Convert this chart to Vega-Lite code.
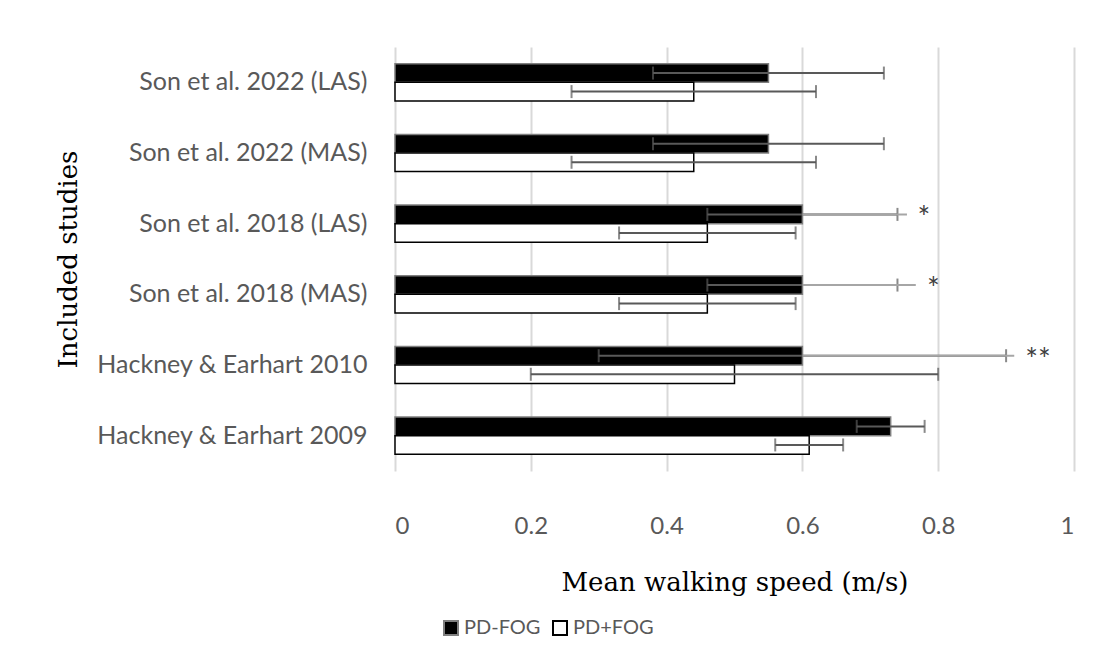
{
  "$schema": "https://vega.github.io/schema/vega-lite/v6.json",
  "width": 679,
  "height": 424,
  "autosize": "none",
  "padding": {"left": 395, "top": 47, "right": 32, "bottom": 196},
  "background": "white",
  "config": {"view": {"stroke": null}},
  "datasets": {
    "bars": [
      {"study": "Son et al. 2022 (LAS)", "group": "PD-FOG", "mean": 0.55, "lo": 0.38, "hi": 0.72},
      {"study": "Son et al. 2022 (LAS)", "group": "PD+FOG", "mean": 0.44, "lo": 0.26, "hi": 0.62},
      {"study": "Son et al. 2022 (MAS)", "group": "PD-FOG", "mean": 0.55, "lo": 0.38, "hi": 0.72},
      {"study": "Son et al. 2022 (MAS)", "group": "PD+FOG", "mean": 0.44, "lo": 0.26, "hi": 0.62},
      {"study": "Son et al. 2018 (LAS)", "group": "PD-FOG", "mean": 0.60, "lo": 0.46, "hi": 0.74},
      {"study": "Son et al. 2018 (LAS)", "group": "PD+FOG", "mean": 0.46, "lo": 0.33, "hi": 0.59},
      {"study": "Son et al. 2018 (MAS)", "group": "PD-FOG", "mean": 0.60, "lo": 0.46, "hi": 0.74},
      {"study": "Son et al. 2018 (MAS)", "group": "PD+FOG", "mean": 0.46, "lo": 0.33, "hi": 0.59},
      {"study": "Hackney & Earhart 2010", "group": "PD-FOG", "mean": 0.60, "lo": 0.30, "hi": 0.90},
      {"study": "Hackney & Earhart 2010", "group": "PD+FOG", "mean": 0.50, "lo": 0.20, "hi": 0.80},
      {"study": "Hackney & Earhart 2009", "group": "PD-FOG", "mean": 0.73, "lo": 0.68, "hi": 0.78},
      {"study": "Hackney & Earhart 2009", "group": "PD+FOG", "mean": 0.61, "lo": 0.56, "hi": 0.66}
    ],
    "sig": [
      {"study": "Son et al. 2018 (LAS)", "group": "PD-FOG", "from": 0.60, "to": 0.754, "labelX": 0.779, "label": "*"},
      {"study": "Son et al. 2018 (MAS)", "group": "PD-FOG", "from": 0.60, "to": 0.767, "labelX": 0.793, "label": "*"},
      {"study": "Hackney & Earhart 2010", "group": "PD-FOG", "from": 0.60, "to": 0.912, "labelX": 0.947, "label": "**"}
    ]
  },
  "encoding": {
    "y": {
      "field": "study",
      "type": "nominal",
      "sort": ["Son et al. 2022 (LAS)", "Son et al. 2022 (MAS)", "Son et al. 2018 (LAS)", "Son et al. 2018 (MAS)", "Hackney & Earhart 2010", "Hackney & Earhart 2009"],
      "scale": {"paddingInner": 0.475, "paddingOuter": 0.2375},
      "axis": {
        "title": "Included studies",
        "titleFont": "DejaVu Serif",
        "titleFontSize": 26,
        "titleFontWeight": "normal",
        "titleColor": "black",
        "titleX": -327,
        "titleY": 212,
        "titleAngle": -90,
        "titleAlign": "center",
        "titleBaseline": "middle",
        "labelFont": "Lato",
        "labelFontSize": 25,
        "labelColor": "#595959",
        "labelPadding": 28,
        "labelLimit": 500,
        "ticks": false,
        "domain": false,
        "grid": false
      }
    },
    "yOffset": {"field": "group", "type": "nominal", "scale": {"domain": ["PD-FOG", "PD+FOG"], "paddingInner": 0, "paddingOuter": 0}}
  },
  "layer": [
    {
      "data": {"name": "bars"},
      "mark": {"type": "bar", "strokeWidth": 1.5},
      "encoding": {
        "x": {
          "field": "mean",
          "type": "quantitative",
          "scale": {"domain": [0, 1], "nice": false},
          "axis": {
            "values": [0, 0.2, 0.4, 0.6, 0.8, 1],
            "format": "~g",
            "title": "Mean walking speed (m/s)",
            "titleFont": "DejaVu Serif",
            "titleFontSize": 26,
            "titleFontWeight": "normal",
            "titleColor": "black",
            "titlePadding": 31,
            "labelFont": "Lato",
            "labelFontSize": 24,
            "labelColor": "#595959",
            "labelPadding": 43,
            "ticks": false,
            "domain": false,
            "grid": true,
            "gridColor": "#d9d9d9",
            "gridWidth": 2
          }
        },
        "fill": {
          "field": "group",
          "type": "nominal",
          "scale": {"domain": ["PD-FOG", "PD+FOG"], "range": ["black", "white"]},
          "legend": {
            "title": null,
            "orient": "none",
            "legendX": 46,
            "legendY": 571,
            "direction": "horizontal",
            "symbolType": "square",
            "symbolSize": 196,
            "symbolStrokeWidth": 2,
            "labelFont": "Lato",
            "labelFontSize": 20,
            "labelColor": "#595959",
            "labelOffset": 3,
            "columnPadding": 8
          }
        },
        "stroke": {
          "field": "group",
          "type": "nominal",
          "scale": {"domain": ["PD-FOG", "PD+FOG"], "range": ["#7f7f7f", "black"]},
          "legend": null
        }
      }
    },
    {
      "data": {"name": "bars"},
      "mark": {"type": "rule", "color": "#595959", "strokeWidth": 2},
      "encoding": {
        "x": {"field": "lo", "type": "quantitative"},
        "x2": {"field": "hi"}
      }
    },
    {
      "data": {"name": "bars"},
      "mark": {"type": "tick", "color": "#595959", "size": 13, "thickness": 2},
      "encoding": {"x": {"field": "lo", "type": "quantitative"}}
    },
    {
      "data": {"name": "bars"},
      "mark": {"type": "tick", "color": "#595959", "size": 13, "thickness": 2},
      "encoding": {"x": {"field": "hi", "type": "quantitative"}}
    },
    {
      "data": {"name": "sig"},
      "mark": {"type": "rule", "color": "#a6a6a6", "strokeWidth": 2},
      "encoding": {
        "x": {"field": "from", "type": "quantitative"},
        "x2": {"field": "to"}
      }
    },
    {
      "data": {"name": "sig"},
      "mark": {"type": "text", "font": "Lato", "fontSize": 30, "color": "#404040", "align": "center", "baseline": "middle", "dy": 5},
      "encoding": {
        "x": {"field": "labelX", "type": "quantitative"},
        "text": {"field": "label"}
      }
    }
  ]
}
